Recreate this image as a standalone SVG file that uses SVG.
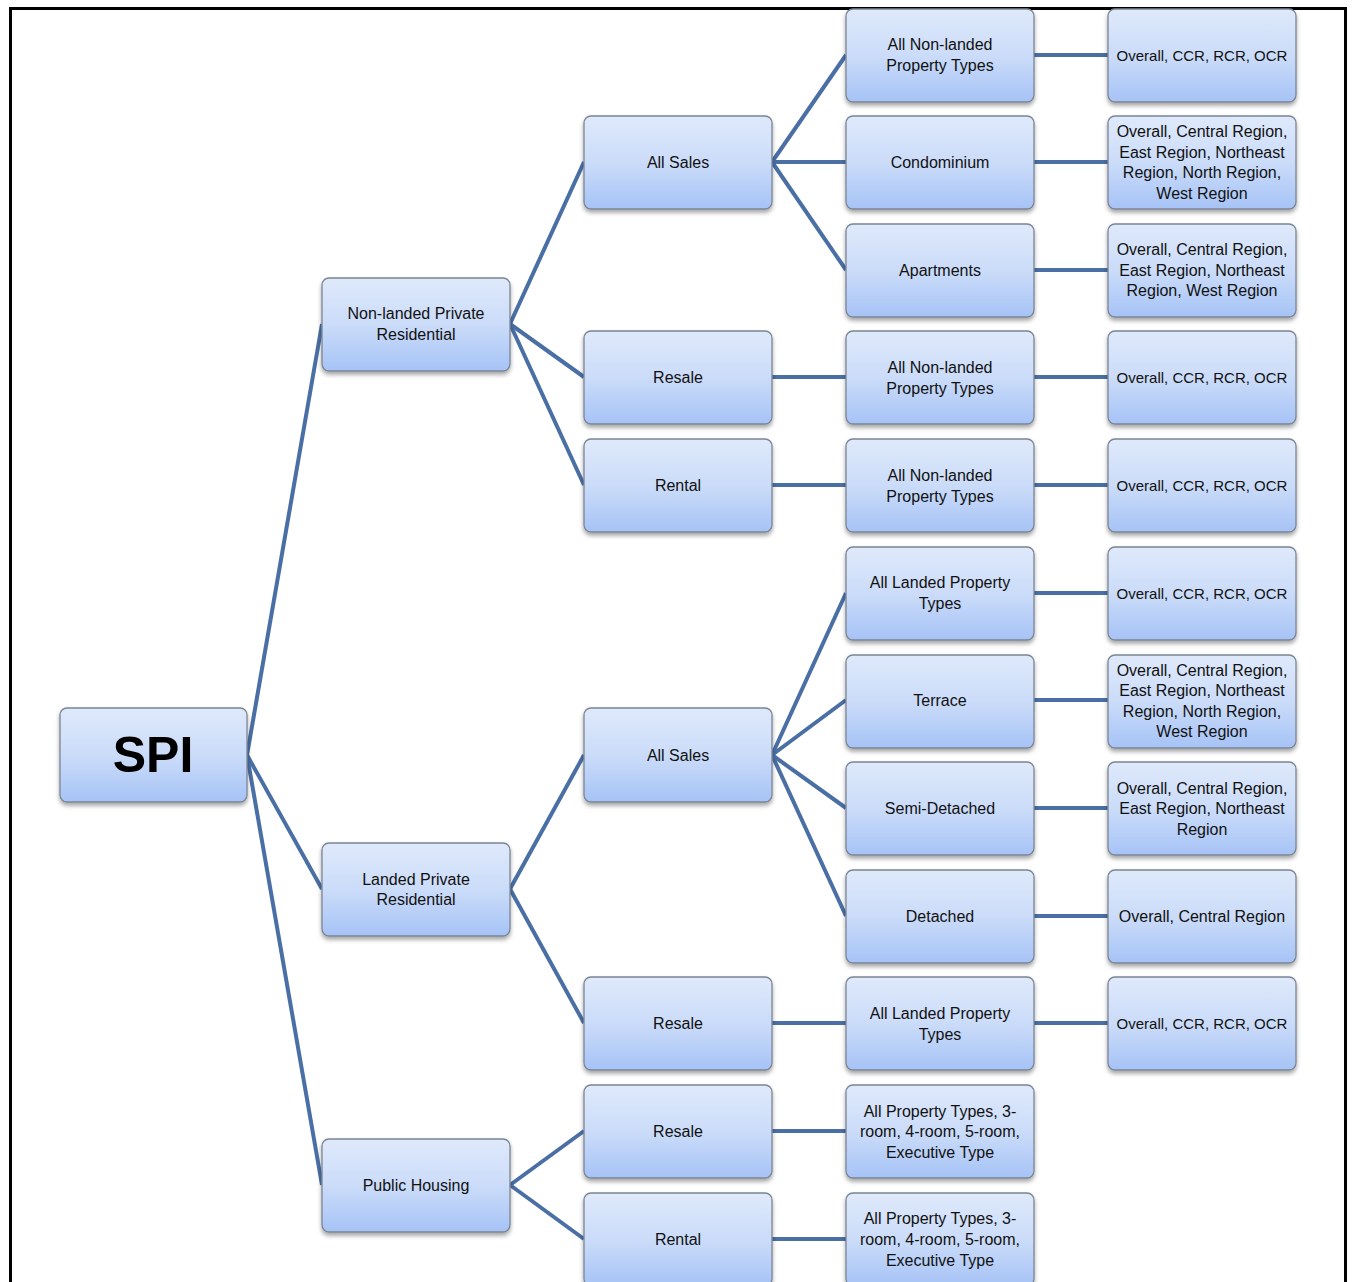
<svg xmlns="http://www.w3.org/2000/svg" width="1352" height="1282" viewBox="0 0 1352 1282">
<defs>
<linearGradient id="g" x1="0" y1="0" x2="0" y2="1">
<stop offset="0" stop-color="#dfe9fb"/>
<stop offset="0.5" stop-color="#cbdcf9"/>
<stop offset="1" stop-color="#a6c3f6"/>
</linearGradient>
<filter id="sh" x="-10%" y="-10%" width="120%" height="130%">
<feDropShadow dx="0" dy="3" stdDeviation="2" flood-color="#000" flood-opacity="0.35"/>
</filter>
</defs>
<style>
.b{fill:url(#g);stroke:#7b8594;stroke-width:1.3;filter:url(#sh)}
.t{font-family:"Liberation Sans",Arial,sans-serif;font-size:16px;fill:#111;text-anchor:middle;dominant-baseline:central}
.n{font-size:15px}
.big{font-family:"Liberation Sans",Arial,sans-serif;font-size:50px;font-weight:bold;fill:#000;text-anchor:middle;dominant-baseline:central}
.c line{stroke:#4a6fa5;stroke-width:4;stroke-linecap:butt}
</style>
<rect x="0" y="0" width="1352" height="1282" fill="#fff"/>
<rect x="10.5" y="8.5" width="1335" height="1290" fill="none" stroke="#000" stroke-width="3"/>
<g id="connectors" class="c">
<line x1="247" y1="755" x2="322" y2="324"/>
<line x1="247" y1="755" x2="322" y2="889"/>
<line x1="247" y1="755" x2="322" y2="1185"/>
<line x1="510" y1="324" x2="584" y2="162"/>
<line x1="510" y1="324" x2="584" y2="377"/>
<line x1="510" y1="324" x2="584" y2="485"/>
<line x1="510" y1="889" x2="584" y2="755"/>
<line x1="510" y1="889" x2="584" y2="1023"/>
<line x1="510" y1="1185" x2="584" y2="1131"/>
<line x1="510" y1="1185" x2="584" y2="1239"/>
<line x1="772" y1="162" x2="846" y2="55"/>
<line x1="772" y1="162" x2="846" y2="162"/>
<line x1="772" y1="162" x2="846" y2="270"/>
<line x1="772" y1="377" x2="846" y2="377"/>
<line x1="772" y1="485" x2="846" y2="485"/>
<line x1="772" y1="755" x2="846" y2="593"/>
<line x1="772" y1="755" x2="846" y2="700"/>
<line x1="772" y1="755" x2="846" y2="808"/>
<line x1="772" y1="755" x2="846" y2="916"/>
<line x1="772" y1="1023" x2="846" y2="1023"/>
<line x1="772" y1="1131" x2="846" y2="1131"/>
<line x1="772" y1="1239" x2="846" y2="1239"/>
<line x1="1034" y1="55" x2="1108" y2="55"/>
<line x1="1034" y1="162" x2="1108" y2="162"/>
<line x1="1034" y1="270" x2="1108" y2="270"/>
<line x1="1034" y1="377" x2="1108" y2="377"/>
<line x1="1034" y1="485" x2="1108" y2="485"/>
<line x1="1034" y1="593" x2="1108" y2="593"/>
<line x1="1034" y1="700" x2="1108" y2="700"/>
<line x1="1034" y1="808" x2="1108" y2="808"/>
<line x1="1034" y1="916" x2="1108" y2="916"/>
<line x1="1034" y1="1023" x2="1108" y2="1023"/>
</g>
<g id="spi"><rect class="b" x="60" y="708" width="187" height="94" rx="7"/><text class="big" x="153" y="755">SPI</text></g>
<g id="nonlanded"><rect class="b" x="322" y="278" width="188" height="93" rx="7"/><text class="t" x="416" y="313">Non-landed Private</text><text class="t" x="416" y="334">Residential</text></g>
<g id="landed"><rect class="b" x="322" y="843" width="188" height="93" rx="7"/><text class="t" x="416" y="879">Landed Private</text><text class="t" x="416" y="899">Residential</text></g>
<g id="public"><rect class="b" x="322" y="1139" width="188" height="93" rx="7"/><text class="t" x="416" y="1185">Public Housing</text></g>
<g id="nl-allsales"><rect class="b" x="584" y="116" width="188" height="93" rx="7"/><text class="t" x="678" y="162">All Sales</text></g>
<g id="nl-resale"><rect class="b" x="584" y="331" width="188" height="93" rx="7"/><text class="t" x="678" y="377">Resale</text></g>
<g id="nl-rental"><rect class="b" x="584" y="439" width="188" height="93" rx="7"/><text class="t" x="678" y="485">Rental</text></g>
<g id="l-allsales"><rect class="b" x="584" y="708" width="188" height="94" rx="7"/><text class="t" x="678" y="755">All Sales</text></g>
<g id="l-resale"><rect class="b" x="584" y="977" width="188" height="93" rx="7"/><text class="t" x="678" y="1023">Resale</text></g>
<g id="p-resale"><rect class="b" x="584" y="1085" width="188" height="93" rx="7"/><text class="t" x="678" y="1131">Resale</text></g>
<g id="p-rental"><rect class="b" x="584" y="1193" width="188" height="93" rx="7"/><text class="t" x="678" y="1239">Rental</text></g>
<g id="c3-0"><rect class="b" x="846" y="9" width="188" height="93" rx="7"/><text class="t" x="940" y="44">All Non-landed</text><text class="t" x="940" y="65">Property Types</text></g>
<g id="c3-1"><rect class="b" x="846" y="116" width="188" height="93" rx="7"/><text class="t" x="940" y="162">Condominium</text></g>
<g id="c3-2"><rect class="b" x="846" y="224" width="188" height="93" rx="7"/><text class="t" x="940" y="270">Apartments</text></g>
<g id="c3-3"><rect class="b" x="846" y="331" width="188" height="93" rx="7"/><text class="t" x="940" y="367">All Non-landed</text><text class="t" x="940" y="388">Property Types</text></g>
<g id="c3-4"><rect class="b" x="846" y="439" width="188" height="93" rx="7"/><text class="t" x="940" y="475">All Non-landed</text><text class="t" x="940" y="496">Property Types</text></g>
<g id="c3-5"><rect class="b" x="846" y="547" width="188" height="93" rx="7"/><text class="t" x="940" y="582">All Landed Property</text><text class="t" x="940" y="603">Types</text></g>
<g id="c3-6"><rect class="b" x="846" y="655" width="188" height="93" rx="7"/><text class="t" x="940" y="700">Terrace</text></g>
<g id="c3-7"><rect class="b" x="846" y="762" width="188" height="93" rx="7"/><text class="t" x="940" y="808">Semi-Detached</text></g>
<g id="c3-8"><rect class="b" x="846" y="870" width="188" height="93" rx="7"/><text class="t" x="940" y="916">Detached</text></g>
<g id="c3-9"><rect class="b" x="846" y="977" width="188" height="93" rx="7"/><text class="t" x="940" y="1013">All Landed Property</text><text class="t" x="940" y="1034">Types</text></g>
<g id="c3-10"><rect class="b" x="846" y="1085" width="188" height="93" rx="7"/><text class="t" x="940" y="1111">All Property Types, 3-</text><text class="t" x="940" y="1131">room, 4-room, 5-room,</text><text class="t" x="940" y="1152">Executive Type</text></g>
<g id="c3-11"><rect class="b" x="846" y="1193" width="188" height="93" rx="7"/><text class="t" x="940" y="1218">All Property Types, 3-</text><text class="t" x="940" y="1239">room, 4-room, 5-room,</text><text class="t" x="940" y="1260">Executive Type</text></g>
<g id="c4-0"><rect class="b" x="1108" y="9" width="188" height="93" rx="7"/><text class="t n" x="1202" y="55">Overall, CCR, RCR, OCR</text></g>
<g id="c4-1"><rect class="b" x="1108" y="116" width="188" height="93" rx="7"/><text class="t" x="1202" y="131">Overall, Central Region,</text><text class="t" x="1202" y="152">East Region, Northeast</text><text class="t" x="1202" y="172">Region, North Region,</text><text class="t" x="1202" y="193">West Region</text></g>
<g id="c4-2"><rect class="b" x="1108" y="224" width="188" height="93" rx="7"/><text class="t" x="1202" y="249">Overall, Central Region,</text><text class="t" x="1202" y="270">East Region, Northeast</text><text class="t" x="1202" y="290">Region, West Region</text></g>
<g id="c4-3"><rect class="b" x="1108" y="331" width="188" height="93" rx="7"/><text class="t n" x="1202" y="377">Overall, CCR, RCR, OCR</text></g>
<g id="c4-4"><rect class="b" x="1108" y="439" width="188" height="93" rx="7"/><text class="t n" x="1202" y="485">Overall, CCR, RCR, OCR</text></g>
<g id="c4-5"><rect class="b" x="1108" y="547" width="188" height="93" rx="7"/><text class="t n" x="1202" y="593">Overall, CCR, RCR, OCR</text></g>
<g id="c4-6"><rect class="b" x="1108" y="655" width="188" height="93" rx="7"/><text class="t" x="1202" y="670">Overall, Central Region,</text><text class="t" x="1202" y="690">East Region, Northeast</text><text class="t" x="1202" y="711">Region, North Region,</text><text class="t" x="1202" y="731">West Region</text></g>
<g id="c4-7"><rect class="b" x="1108" y="762" width="188" height="93" rx="7"/><text class="t" x="1202" y="788">Overall, Central Region,</text><text class="t" x="1202" y="808">East Region, Northeast</text><text class="t" x="1202" y="829">Region</text></g>
<g id="c4-8"><rect class="b" x="1108" y="870" width="188" height="93" rx="7"/><text class="t" x="1202" y="916">Overall, Central Region</text></g>
<g id="c4-9"><rect class="b" x="1108" y="977" width="188" height="93" rx="7"/><text class="t n" x="1202" y="1023">Overall, CCR, RCR, OCR</text></g>
</svg>
